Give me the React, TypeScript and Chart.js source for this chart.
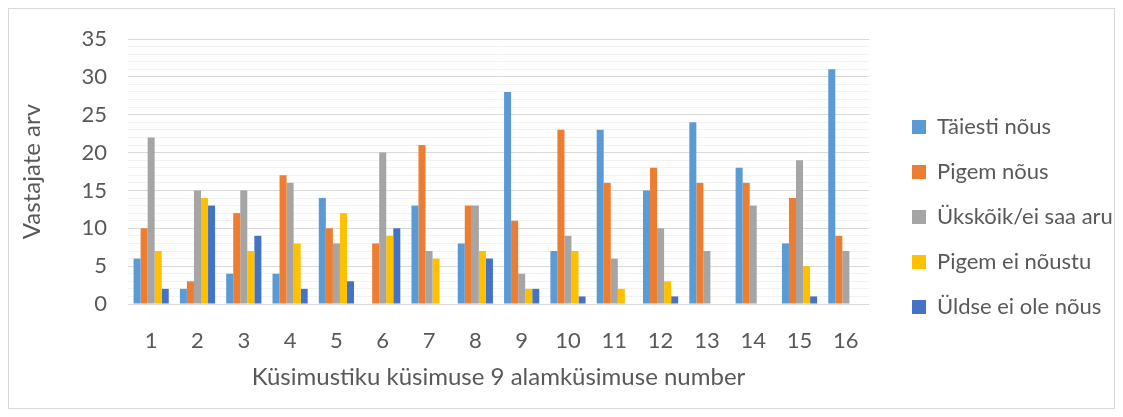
import React, { useEffect, useRef } from "react";
import { Chart, registerables } from "chart.js";

Chart.register(...registerables);

const categories = ["1", "2", "3", "4", "5", "6", "7", "8", "9", "10", "11", "12", "13", "14", "15", "16"];
const seriesNames = ["Täiesti nõus", "Pigem nõus", "Ükskõik/ei saa aru", "Pigem ei nõustu", "Üldse ei ole nõus"];
const taiestiNous = [6, 2, 4, 4, 14, 0, 13, 8, 28, 7, 23, 15, 24, 18, 8, 31];
const pigemNous = [10, 3, 12, 17, 10, 8, 21, 13, 11, 23, 16, 18, 16, 16, 14, 9];
const ukskoik = [22, 15, 15, 16, 8, 20, 7, 13, 4, 9, 6, 10, 7, 13, 19, 7];
const pigemEiNoustu = [7, 14, 7, 8, 12, 9, 6, 7, 2, 7, 2, 3, 0, 0, 5, 0];
const uldseEiOle = [2, 13, 9, 2, 3, 10, 0, 6, 2, 1, 0, 1, 0, 0, 1, 0];
const colors = ["#5B9BD5", "#ED7D31", "#A5A5A5", "#FFC000", "#4472C4"];
const yMax = 35;
const yTitle = "Vastajate arv";
const xTitle = "Küsimustiku küsimuse 9 alamküsimuse number";

const FONT = "Lato, 'Open Sans', sans-serif";
const TEXT = "#595959";

export default function App() {
  const ref = useRef<HTMLCanvasElement | null>(null);
  useEffect(() => {
    if (!ref.current) return;
    const values = [taiestiNous, pigemNous, ukskoik, pigemEiNoustu, uldseEiOle];
    const chart = new Chart(ref.current, {
      type: "bar",
      data: {
        labels: categories,
        datasets: values.map((v, i) => ({
          label: seriesNames[i],
          data: v,
          backgroundColor: colors[i],
          borderWidth: 0,
          categoryPercentage: 0.76,
          barPercentage: 1,
          yAxisID: "y",
        })),
      },
      options: {
        animation: false,
        responsive: false,
        maintainAspectRatio: false,
        layout: { padding: { top: 20, right: 0, bottom: 3, left: 9 } },
        plugins: {
          tooltip: { enabled: false },
          legend: {
            position: "right",
            labels: {
              boxWidth: 14,
              boxHeight: 14,
              padding: 23,
              color: TEXT,
              font: { family: FONT, size: 22 },
            },
          },
        },
        scales: {
          x: {
            grid: { display: false, drawTicks: false },
            border: { display: false },
            ticks: { color: TEXT, font: { family: FONT, size: 22 }, padding: 24, maxRotation: 0 },
            title: { display: true, text: xTitle, color: TEXT, font: { family: FONT, size: 24 }, padding: { top: 0, bottom: 13 } },
            afterFit: (s: any) => {
              s.height = 101;
            },
          },
          y: {
            min: 0,
            max: yMax,
            border: { display: false },
            grid: {
              drawTicks: false,
              color: (c: any) => (c.tick && c.tick.value % 5 === 0 ? "#D9D9D9" : "#F2F2F2"),
            },
            ticks: {
              stepSize: 1,
              autoSkip: false,
              padding: 21,
              color: TEXT,
              font: { family: FONT, size: 22 },
              callback: (v: any) => (Number(v) % 5 === 0 ? String(v) : ""),
            },
            title: { display: true, text: yTitle, color: TEXT, font: { family: FONT, size: 24 }, padding: { top: 0, bottom: 0 } },
            afterFit: (s: any) => {
              s.width = 110;
              s.paddingTop = 30;
              s.paddingBottom = 0;
            },
          },
          yGap: {
            position: "right",
            display: true,
            min: 0,
            max: yMax,
            grid: { display: false, drawTicks: false },
            border: { display: false },
            ticks: { display: false },
            afterFit: (s: any) => {
              s.width = 20;
              s.paddingTop = 0;
              s.paddingBottom = 0;
            },
          },
        },
      },
    });
    const leg: any = chart.legend;
    if (leg) {
      const origFit = leg.fit.bind(leg);
      leg.fit = () => {
        origFit();
        leg.width = 225;
      };
      chart.update();
    }
    return () => chart.destroy();
  }, []);
  return (
    <div style={{ width: 1105, height: 399, border: "1px solid #D9D9D9", background: "#fff" }}>
      <canvas ref={ref} width={1105} height={399} style={{ display: "block" }} />
    </div>
  );
}
